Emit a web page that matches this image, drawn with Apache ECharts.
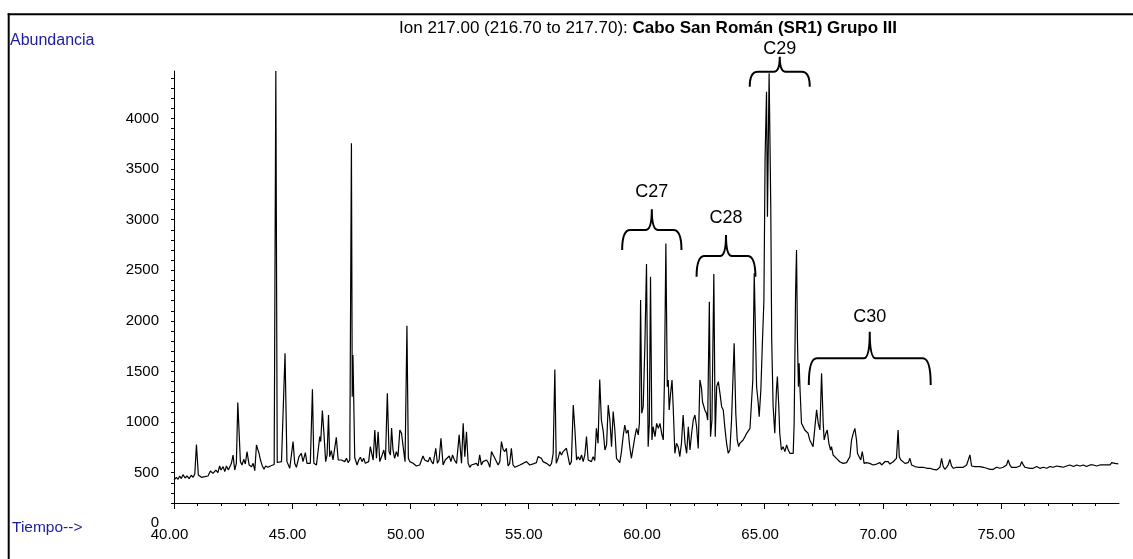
<!DOCTYPE html>
<html>
<head>
<meta charset="utf-8">
<script src="https://cdn.jsdelivr.net/npm/echarts@6/dist/echarts.min.js"></script>
<style>
  html, body { margin: 0; padding: 0; background: #fff; }
  #chart { width: 1133px; height: 559px; }
</style>
</head>
<body>
<div id="chart"></div>
<script>
// Retention time (min) of each sampled point of the m/z 217 trace
const timeMin = [
  40.00, 40.10, 40.17, 40.24, 40.31, 40.38, 40.47, 40.55, 40.64, 40.73, 40.81, 40.88, 40.95, 41.03, 41.16, 41.30,
  41.44, 41.54, 41.65, 41.77, 41.86, 41.93, 41.99, 42.08, 42.15, 42.22, 42.30, 42.36, 42.43, 42.50, 42.57, 42.64,
  42.70, 42.75, 42.81, 42.88, 42.95, 43.02, 43.09, 43.18, 43.28, 43.35, 43.42, 43.49, 43.55, 43.60, 43.66, 43.74,
  43.81, 43.88, 43.98, 44.08, 44.16, 44.24, 44.31, 44.37, 44.45, 44.55, 44.63, 44.70, 44.78, 44.90, 45.04, 45.11,
  45.18, 45.29, 45.39, 45.46, 45.56, 45.63, 45.70, 45.77, 45.86, 45.92, 46.03, 46.10, 46.17, 46.21, 46.28, 46.35,
  46.42, 46.48, 46.54, 46.59, 46.66, 46.73, 46.80, 46.87, 46.95, 47.02, 47.09, 47.16, 47.23, 47.30, 47.37, 47.44,
  47.51, 47.545, 47.575, 47.65, 47.75, 47.82, 47.89, 47.96, 48.03, 48.10, 48.17, 48.24, 48.31, 48.37, 48.43, 48.50,
  48.57, 48.64, 48.71, 48.81, 48.88, 48.95, 49.03, 49.10, 49.16, 49.21, 49.27, 49.34, 49.41, 49.48, 49.56, 49.63,
  49.70, 49.78, 49.86, 49.92, 49.98, 50.12, 50.26, 50.40, 50.54, 50.61, 50.68, 50.76, 50.83, 50.90, 50.97, 51.08,
  51.15, 51.22, 51.30, 51.39, 51.48, 51.56, 51.65, 51.72, 51.79, 51.87, 51.96, 52.07, 52.17, 52.24, 52.31, 52.38,
  52.45, 52.52, 52.59, 52.66, 52.80, 52.87, 52.94, 53.01, 53.08, 53.16, 53.23, 53.30, 53.37, 53.44, 53.51, 53.58,
  53.65, 53.72, 53.79, 53.86, 53.93, 54.00, 54.07, 54.14, 54.21, 54.28, 54.35, 54.43, 54.50, 54.64, 54.78, 54.92,
  54.99, 55.06, 55.20, 55.34, 55.41, 55.48, 55.55, 55.62, 55.77, 55.91, 55.98, 56.05, 56.12, 56.18, 56.26, 56.33,
  56.40, 56.47, 56.54, 56.61, 56.68, 56.75, 56.82, 56.90, 56.97, 57.04, 57.11, 57.18, 57.25, 57.32, 57.39, 57.46,
  57.53, 57.60, 57.67, 57.74, 57.81, 57.88, 57.95, 58.02, 58.09, 58.17, 58.24, 58.31, 58.38, 58.45, 58.52, 58.59,
  58.66, 58.73, 58.80, 58.87, 58.94, 59.01, 59.08, 59.15, 59.22, 59.29, 59.36, 59.44, 59.51, 59.58, 59.65, 59.70,
  59.75, 59.80, 59.86, 59.93, 60.00, 60.07, 60.12, 60.17, 60.23, 60.28, 60.36, 60.43, 60.50, 60.57, 60.64, 60.71,
  60.76, 60.82, 60.88, 60.92, 60.96, 61.02, 61.08, 61.13, 61.20, 61.27, 61.34, 61.41, 61.48, 61.55, 61.63, 61.70,
  61.77, 61.84, 61.91, 61.98, 62.05, 62.12, 62.19, 62.26, 62.33, 62.37, 62.43, 62.47, 62.54, 62.59, 62.66, 62.71,
  62.77, 62.85, 62.91, 62.97, 63.04, 63.11, 63.18, 63.25, 63.32, 63.39, 63.46, 63.53, 63.60, 63.71, 63.78, 63.84,
  63.90, 63.95, 64.02, 64.09, 64.17, 64.24, 64.31, 64.38, 64.45, 64.50, 64.56, 64.61, 64.66, 64.73, 64.77, 64.84,
  64.91, 64.97, 65.02, 65.08, 65.12, 65.19, 65.26, 65.30, 65.36, 65.43, 65.50, 65.54, 65.60, 65.64, 65.71, 65.78,
  65.86, 65.93, 66.00, 66.07, 66.14, 66.21, 66.25, 66.31, 66.35, 66.39, 66.43, 66.46, 66.50, 66.56, 66.63, 66.70,
  66.77, 66.84, 66.91, 66.98, 67.05, 67.13, 67.20, 67.27, 67.34, 67.41, 67.48, 67.52, 67.59, 67.65, 67.72, 67.79,
  67.83, 67.90, 67.97, 68.04, 68.11, 68.18, 68.25, 68.32, 68.40, 68.47, 68.54, 68.61, 68.68, 68.75, 68.82, 68.89,
  68.93, 69.00, 69.07, 69.13, 69.17, 69.21, 69.31, 69.38, 69.45, 69.52, 69.59, 69.67, 69.74, 69.88, 69.95, 70.02,
  70.09, 70.16, 70.23, 70.30, 70.37, 70.44, 70.51, 70.58, 70.65, 70.70, 70.77, 70.84, 70.94, 71.01, 71.08, 71.15,
  71.22, 71.29, 71.36, 71.43, 71.50, 71.57, 71.72, 71.86, 72.00, 72.14, 72.28, 72.35, 72.42, 72.49, 72.56, 72.63,
  72.70, 72.77, 72.84, 72.91, 72.99, 73.06, 73.13, 73.20, 73.27, 73.34, 73.41, 73.55, 73.62, 73.69, 73.76, 73.83,
  73.90, 73.97, 74.11, 74.26, 74.40, 74.54, 74.68, 74.82, 74.96, 75.10, 75.24, 75.31, 75.38, 75.45, 75.53, 75.67,
  75.81, 75.88, 75.95, 76.02, 76.09, 76.23, 76.30, 76.37, 76.51, 76.65, 76.80, 76.94, 77.08, 77.22, 77.36, 77.50,
  77.64, 77.78, 77.92, 78.07, 78.21, 78.35, 78.49, 78.63, 78.77, 78.84, 78.91, 79.05, 79.19, 79.34, 79.41, 79.48,
  79.55, 79.62, 79.69, 79.76, 79.83, 79.90, 79.97
];

// Abundance (counts) at each retention time above
const abundance = [
  427, 454, 434, 467, 441, 480, 447, 467, 441, 474, 454, 487, 777, 477, 454, 460,
  467, 516, 493, 526, 500, 566, 526, 559, 510, 566, 526, 543, 592, 674, 526, 592,
  1192, 1185, 609, 576, 632, 586, 707, 576, 559, 592, 520, 773, 757, 691, 625, 566,
  533, 566, 553, 566, 576, 580, 4470, 600, 599, 609, 620, 1680, 609, 543, 807, 592,
  553, 658, 691, 609, 698, 592, 576, 592, 1324, 592, 576, 560, 856, 807, 1113, 873,
  609, 675, 1070, 658, 718, 625, 609, 849, 625, 642, 625, 625, 609, 642, 599, 625,
  3755, 1250, 1663, 650, 576, 625, 652, 609, 642, 592, 576, 609, 757, 741, 625, 922,
  642, 905, 609, 675, 724, 625, 1284, 708, 675, 940, 724, 642, 708, 658, 922, 889,
  757, 609, 1953, 642, 609, 592, 566, 576, 665, 625, 642, 609, 652, 609, 586, 741,
  592, 625, 840, 576, 625, 609, 665, 609, 675, 625, 592, 873, 592, 988, 658, 905,
  592, 553, 576, 560, 592, 566, 675, 576, 609, 592, 625, 599, 553, 708, 675, 642,
  658, 576, 609, 807, 731, 708, 741, 566, 592, 741, 576, 553, 566, 576, 592, 609,
  625, 576, 586, 599, 658, 675, 642, 609, 592, 566, 592, 691, 1520, 592, 642, 708,
  675, 708, 724, 741, 658, 576, 609, 1169, 922, 625, 658, 625, 675, 609, 675, 856,
  625, 642, 609, 658, 619, 938, 790, 1420, 1021, 905, 724, 774, 1169, 1021, 757, 1103,
  922, 642, 625, 599, 708, 856, 971, 889, 922, 757, 642, 625, 856, 938, 873, 988,
  2206, 1086, 1152, 1745, 2562, 757, 987, 2437, 823, 954, 856, 987, 938, 987, 889, 823,
  1416, 2766, 1350, 1416, 1119, 1284, 1416, 1152, 691, 790, 757, 658, 790, 1070, 790, 691,
  954, 724, 889, 1020, 1070, 954, 740, 1416, 1333, 1201, 1218, 1119, 1086, 1020, 2190, 856,
  1020, 2463, 856, 1350, 1399, 1284, 1152, 1119, 938, 790, 691, 724, 1020, 1778, 1086, 823,
  757, 790, 773, 823, 856, 889, 889, 938, 938, 1416, 2470, 2470, 1350, 1186, 1054, 1317,
  1811, 2207, 3623, 4265, 3030, 4447, 3129, 1812, 1153, 889, 1317, 1449, 1153, 889, 724, 757,
  708, 774, 724, 691, 675, 691, 988, 2273, 2701, 1812, 1350, 1581, 1317, 988, 955, 922,
  906, 889, 823, 790, 757, 955, 1120, 988, 922, 1482, 988, 823, 888, 921, 790, 724,
  757, 674, 658, 641, 625, 608, 599, 592, 585, 599, 608, 658, 823, 888, 938, 823,
  691, 658, 625, 707, 658, 592, 599, 585, 592, 599, 576, 592, 585, 599, 576, 592,
  608, 592, 608, 585, 599, 608, 625, 641, 921, 658, 625, 641, 592, 592, 599, 642,
  576, 566, 560, 566, 553, 560, 553, 543, 543, 533, 527, 520, 553, 642, 560, 533,
  553, 576, 632, 566, 543, 533, 553, 543, 553, 566, 553, 576, 625, 675, 566, 553,
  560, 553, 560, 553, 543, 533, 533, 553, 543, 553, 576, 625, 576, 553, 543, 553,
  566, 609, 576, 553, 566, 543, 560, 543, 560, 543, 553, 543, 560, 553, 566, 560,
  553, 566, 576, 560, 576, 566, 576, 560, 576, 592, 576, 566, 576, 576, 592, 576,
  592, 576, 599, 586, 592, 576, 586
];

// Axis tick values
const timeLabels = [40, 45, 50, 55, 60, 65, 70, 75];
const abundanceLabels = [500, 1000, 1500, 2000, 2500, 3000, 3500, 4000];

// Sterane carbon-number groups marked with braces:
// [start time, end time, brace end level, brace bar level, brace tip level, label level]
const groupNames = ['C27', 'C28', 'C29', 'C30'];
const groupSpans = [
  [58.97, 61.48, 2701, 2899, 3103, 3277],
  [62.12, 64.61, 2437, 2641, 2849, 3014],
  [64.37, 66.91, 4314, 4462, 4611, 4684],
  [66.87, 72.03, 1367, 1630, 1893, 2041]
];

const FONT = '"Liberation Sans", Arial, Helvetica, sans-serif';
const LABEL_BLUE = '#1c1c9c';

const minorTimes = [];
for (let t = 40; t < 80; t += 1) if (t % 5 !== 0) minorTimes.push(t);
const yTicks = [];
for (let v = 200; v <= 4400; v += 100) yTicks.push(v);

const chart = echarts.init(document.getElementById('chart'), null, { renderer: 'canvas' });

const option = {
  animation: false,
  backgroundColor: '#ffffff',
  grid: { left: 174, right: 14, top: 71, bottom: 56, containLabel: false },
  xAxis: [
    {
      type: 'value', min: 40, max: 80, position: 'bottom',
      axisLine: { show: true, onZero: false, lineStyle: { color: '#000', width: 1 } },
      axisTick: { show: true, customValues: timeLabels, length: 6, lineStyle: { color: '#000', width: 1 } },
      axisLabel: {
        customValues: timeLabels, formatter: v => v.toFixed(2),
        fontSize: 15, fontFamily: FONT, color: '#000', margin: 24, padding: [0, 9, 0, 0]
      },
      splitLine: { show: false }
    },
    {
      type: 'value', min: 40, max: 80, position: 'bottom', gridIndex: 0,
      axisLine: { show: false, onZero: false },
      axisTick: { show: true, customValues: minorTimes, length: 3, lineStyle: { color: '#000', width: 1 } },
      axisLabel: { show: false },
      splitLine: { show: false }
    }
  ],
  yAxis: {
    type: 'value', min: 200, max: 4470,
    axisLine: { show: true, lineStyle: { color: '#000', width: 1 } },
    axisTick: { show: true, customValues: yTicks, length: 3, lineStyle: { color: '#000', width: 1 } },
    axisLabel: {
      customValues: abundanceLabels, formatter: v => String(v),
      fontSize: 15, fontFamily: FONT, color: '#000', margin: 15
    },
    splitLine: { show: false }
  },
  series: [
    {
      type: 'line',
      xAxisIndex: 0,
      data: timeMin.map((t, i) => [t, abundance[i]]),
      showSymbol: false,
      symbol: 'none',
      lineStyle: { color: '#000', width: 1.2 },
      silent: true
    },
    {
      type: 'custom',
      xAxisIndex: 0,
      clip: false,
      silent: true,
      data: groupSpans,
      renderItem: function (params, api) {
        const left = api.coord([api.value(0), api.value(2)]);
        const right = api.coord([api.value(1), api.value(2)]);
        const yBar = api.coord([api.value(0), api.value(3)])[1];
        const yTip = api.coord([api.value(0), api.value(4)])[1];
        const yLab = api.coord([api.value(0), api.value(5)])[1];
        const xL = left[0], xR = right[0], yE = left[1];
        const xm = (xL + xR) / 2;
        const r = 8, c = 6;
        const d = [
          'M', xL, yE, 'Q', xL, yBar, xL + r, yBar,
          'L', xm - c, yBar, 'Q', xm, yBar, xm, yTip,
          'Q', xm, yBar, xm + c, yBar,
          'L', xR - r, yBar, 'Q', xR, yBar, xR, yE
        ].join(' ');
        return {
          type: 'group',
          children: [
            { type: 'path', shape: { pathData: d }, style: { fill: null, stroke: '#000', lineWidth: 2 } },
            {
              type: 'text',
              style: {
                text: groupNames[params.dataIndex], x: xm, y: yLab,
                align: 'center', verticalAlign: 'middle',
                fontSize: 18, fontFamily: FONT, fill: '#000'
              }
            }
          ]
        };
      }
    }
  ]
};

chart.setOption(option);

// Loose text and frame that sit outside the plotting area
const zeroY = chart.convertToPixel({ yAxisIndex: 0 }, 0);
const axisX = chart.convertToPixel({ xAxisIndex: 0 }, 40);

chart.setOption({
  graphic: [
    { type: 'line', shape: { x1: 7.7, y1: 14.3, x2: 1133, y2: 14.3 }, style: { stroke: '#000', lineWidth: 2 }, silent: true },
    { type: 'line', shape: { x1: 8.7, y1: 13.3, x2: 8.7, y2: 559 }, style: { stroke: '#000', lineWidth: 2 }, silent: true },
    {
      type: 'text', x: 648, y: 28, silent: true,
      style: {
        text: '{n|Ion 217.00 (216.70 to 217.70): }{b|Cabo San Román (SR1) Grupo III}',
        align: 'center', verticalAlign: 'middle',
        rich: {
          n: { fontSize: 17, fontFamily: FONT, fill: '#000' },
          b: { fontSize: 17, fontFamily: FONT, fontWeight: 'bold', fill: '#000' }
        }
      }
    },
    {
      type: 'text', x: 10, y: 41, silent: true,
      style: { text: 'Abundancia', fontSize: 16, fontFamily: FONT, fill: LABEL_BLUE, align: 'left', verticalAlign: 'middle' }
    },
    {
      type: 'text', x: 12, y: 528, silent: true,
      style: { text: 'Tiempo-->', fontSize: 15.5, fontFamily: FONT, fill: LABEL_BLUE, align: 'left', verticalAlign: 'middle' }
    },
    {
      type: 'text', x: axisX - 15, y: zeroY, silent: true,
      style: { text: '0', fontSize: 15, fontFamily: FONT, fill: '#000', align: 'right', verticalAlign: 'middle' }
    }
  ]
});
</script>
</body>
</html>
